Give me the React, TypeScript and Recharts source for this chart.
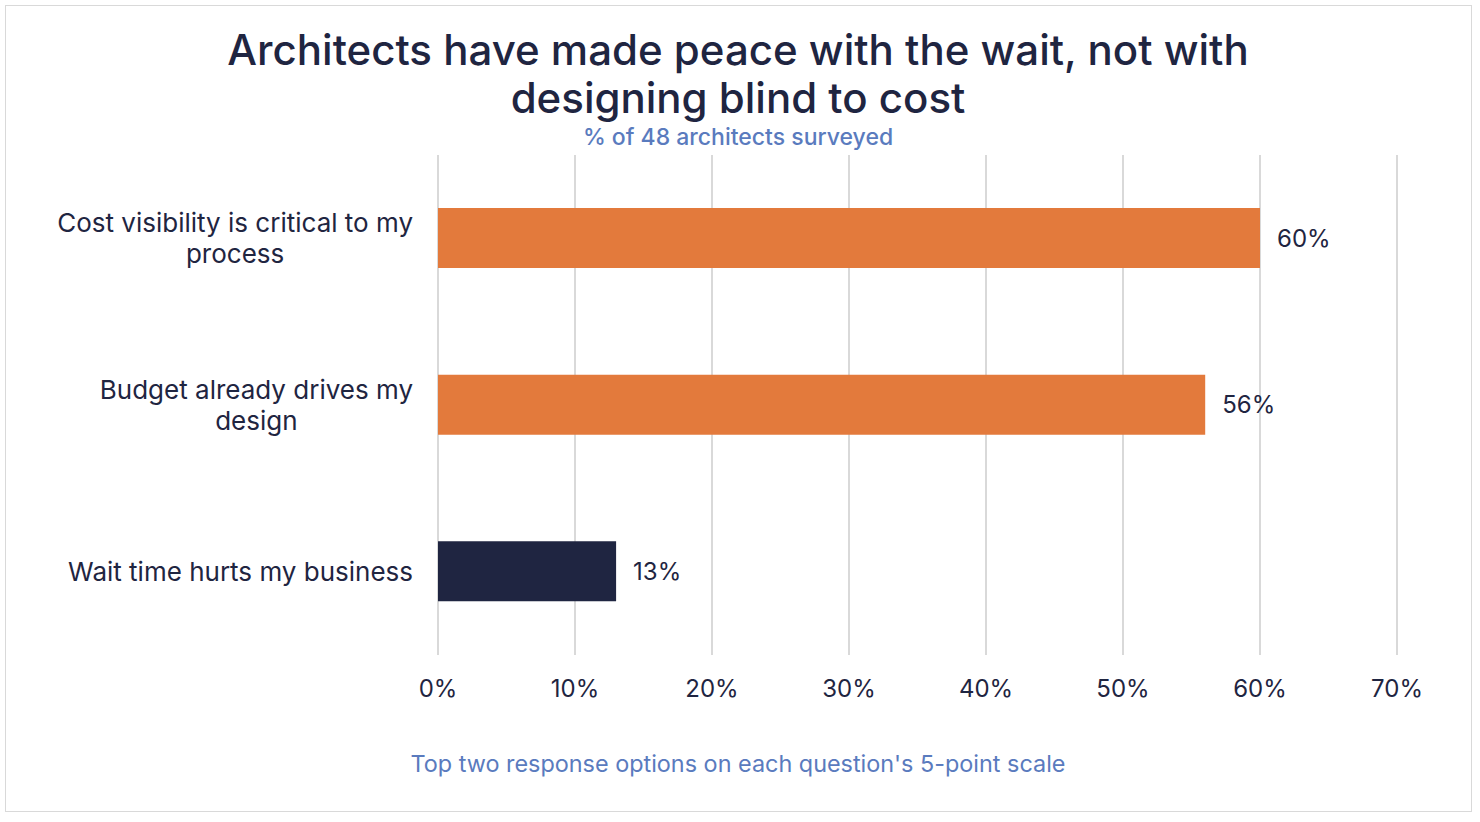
import { BarChart, Bar, XAxis, YAxis, CartesianGrid, Cell, LabelList } from 'recharts'

const categories = [
  'Cost visibility is critical to my\nprocess',
  'Budget already drives my\ndesign',
  'Wait time hurts my business',
]
const shares = [60, 56, 13]
const barColors = ['#E37A3C', '#E37A3C', '#1F2541']
const xTicks = [0, 10, 20, 30, 40, 50, 60, 70]

const FONT = 'Inter, "Noto Sans", sans-serif'
const NAVY = '#1F2541'
const BLUE = '#5A7BBE'

const data = categories.map((name, i) => ({ name, value: shares[i] }))

let ctx: CanvasRenderingContext2D | null = null
function textWidth(s: string, size: number) {
  if (!ctx) ctx = document.createElement('canvas').getContext('2d')
  if (!ctx) return s.length * size * 0.55
  ctx.font = `400 ${size}px ${FONT}`
  return ctx.measureText(s).width
}

function CategoryTick(props: any) {
  const { x, y, payload } = props
  const lines: string[] = String(payload.value).split('\n')
  const size = 26
  const lh = 31
  const widest = Math.max(...lines.map(l => textWidth(l, size)))
  const cx = x - 17 - widest / 2
  const top = y - ((lines.length - 1) * lh) / 2 + 9
  return (
    <text textAnchor="middle" fill={NAVY} fontSize={size} fontFamily={FONT}>
      {lines.map((l, i) => (
        <tspan key={i} x={cx} y={top + i * lh}>{l}</tspan>
      ))}
    </text>
  )
}

function PercentTick(props: any) {
  const { x, y, payload } = props
  return (
    <text x={x} y={y + 34} textAnchor="middle" fill={NAVY} fontSize={24} fontFamily={FONT}>
      {payload.value}%
    </text>
  )
}

export default function App() {
  return (
    <div style={{ position: 'absolute', left: 0, top: 0, width: 1480, height: 822, background: '#fff', fontFamily: FONT }}>
      <div style={{ position: 'absolute', left: 5, top: 5, width: 1465, height: 805, border: '1px solid #d9d9d9' }} />
      <div style={{ position: 'absolute', left: 0, top: 26, width: 1476, textAlign: 'center', color: NAVY, fontSize: 42, fontWeight: 500, lineHeight: '48px' }}>
        Architects have made peace with the wait, not with<br />designing blind to cost
      </div>
      <div style={{ position: 'absolute', left: 0, top: 123, width: 1476, textAlign: 'center', color: BLUE, fontSize: 23, fontWeight: 500 }}>
        % of 48 architects surveyed
      </div>
      <div style={{ position: 'absolute', left: 0, top: 749, width: 1476, textAlign: 'center', color: BLUE, fontSize: 23.4 }}>
        Top two response options on each question's 5-point scale
      </div>
      <div style={{ position: 'absolute', left: 0, top: 0 }}>
        <BarChart
          width={1480}
          height={822}
          data={data}
          layout="vertical"
          margin={{ top: 155, right: 83, bottom: 107, left: 0 }}
          barCategoryGap={0}
        >
          <CartesianGrid horizontal={false} stroke="#d9d9d9" strokeWidth={2} />
          <XAxis
            type="number"
            domain={[0, 70]}
            ticks={xTicks}
            height={60}
            axisLine={false}
            tickLine={false}
            tick={<PercentTick />}
            interval={0}
          />
          <YAxis
            type="category"
            dataKey="name"
            width={438}
            axisLine={false}
            tickLine={false}
            tick={<CategoryTick />}
            interval={0}
          />
          <Bar dataKey="value" barSize={60} isAnimationActive={false}>
            {data.map((d, i) => (
              <Cell key={d.name} fill={barColors[i]} />
            ))}
            <LabelList
              dataKey="value"
              position="right"
              offset={17}
              formatter={(v: any) => `${v}%`}
              fill={NAVY}
              fontSize={24}
              fontFamily={FONT}
            />
          </Bar>
        </BarChart>
      </div>
    </div>
  )
}
